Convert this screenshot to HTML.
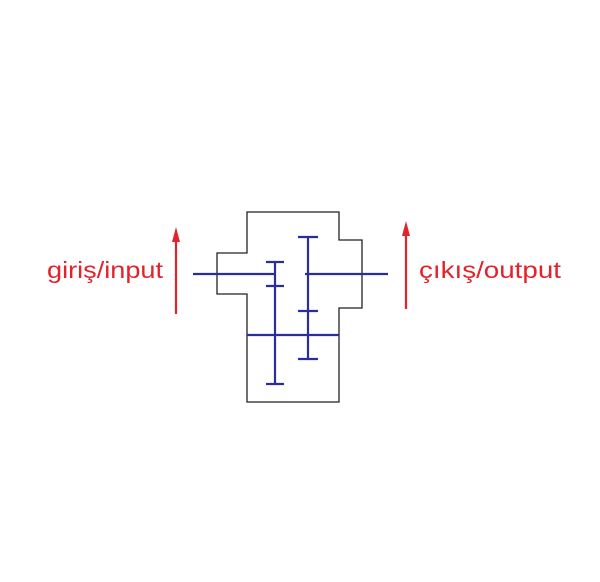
<!DOCTYPE html>
<html><head><meta charset="utf-8"><style>html,body{margin:0;padding:0;background:#fff}</style></head>
<body>
<svg width="600" height="577" xmlns="http://www.w3.org/2000/svg">
<polygon points="247,212 339,212 339,240 362,240 362,308 339,308 339,402 247,402 247,294 217,294 217,253 247,253" fill="none" stroke="#222" stroke-width="1.3"/>
<g stroke="#2b2e9a" stroke-width="2.2" fill="none">
<line x1="193" y1="274" x2="276" y2="274"/>
<line x1="305" y1="274" x2="388" y2="274"/>
<line x1="247" y1="335" x2="339" y2="335"/>
<line x1="275" y1="262" x2="275" y2="384"/>
<line x1="266" y1="262" x2="284" y2="262"/>
<line x1="266" y1="286" x2="284" y2="286"/>
<line x1="266" y1="384" x2="284" y2="384"/>
<line x1="308" y1="237" x2="308" y2="359"/>
<line x1="298" y1="237" x2="318" y2="237"/>
<line x1="298" y1="311" x2="318" y2="311"/>
<line x1="298" y1="359" x2="318" y2="359"/>
</g>
<g stroke="#e3222b" stroke-width="2.2" fill="#e3222b">
<line x1="176" y1="314" x2="176" y2="240"/>
<polygon points="176,227 172,242 180,242" stroke="none"/>
<line x1="406" y1="309" x2="406" y2="234"/>
<polygon points="406,221 402,236 410,236" stroke="none"/>
</g>
<g fill="#e3222b" font-family="Liberation Sans, DejaVu Sans, sans-serif" font-size="23">
<text x="47" y="278" textLength="116" lengthAdjust="spacingAndGlyphs">giriş/input</text>
<text x="419" y="278" textLength="142" lengthAdjust="spacingAndGlyphs">çıkış/output</text>
</g>
</svg>
</body></html>
